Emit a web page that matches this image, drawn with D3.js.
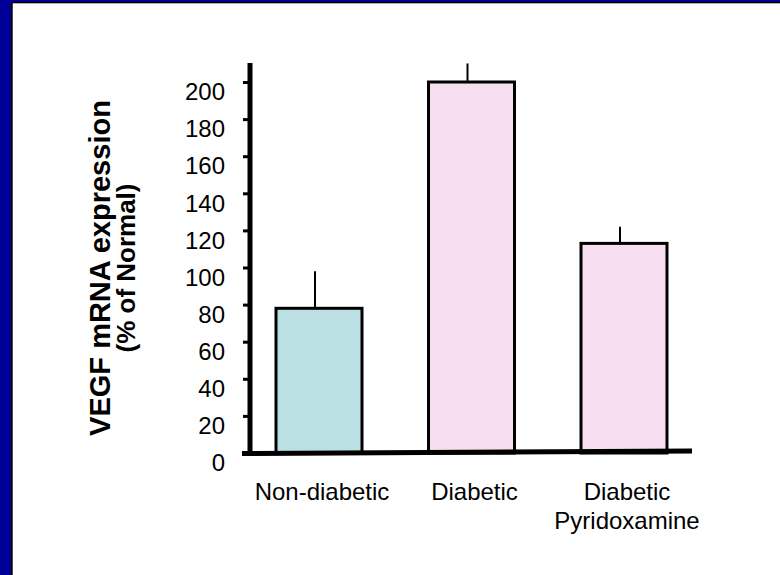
<!DOCTYPE html>
<html>
<head>
<meta charset="utf-8">
<script src="https://cdn.jsdelivr.net/npm/d3@7"></script>
<style>
  body { margin: 0; background: #fff; }
  text { font-family: Arial, "Liberation Sans", sans-serif; }
</style>
</head>
<body>
<div id="container"></div>
<script>
/* DATA */
const categories = ["Non-diabetic", "Diabetic", "Diabetic Pyridoxamine"];
const labelLines = [["Non-diabetic"], ["Diabetic"], ["Diabetic", "Pyridoxamine"]];
const values = [78, 200, 113];
const errors = [20, 10, 9];
const yTicks = [0, 20, 40, 60, 80, 100, 120, 140, 160, 180, 200];
const colors = ["#bbe0e3", "#f6ddef", "#f6ddef"];

/* CONSTANTS */
const width = 780,
  height = 575;

const svg = d3.select("#container")
  .append("svg")
  .attr("width", width)
  .attr("height", height);

// frame: navy band left and top with a thin black edge
svg.append("rect").attr("x", 0).attr("y", 0).attr("width", width).attr("height", 3.3).attr("fill", "#000000");
svg.append("rect").attr("x", 0).attr("y", 0).attr("width", 12.7).attr("height", height).attr("fill", "#000000");
svg.append("rect").attr("x", 0).attr("y", 0).attr("width", width).attr("height", 1.8).attr("fill", "#000099");
svg.append("rect").attr("x", 0).attr("y", 0).attr("width", 11).attr("height", height).attr("fill", "#000099");

// SCALES
const y = d3.scaleLinear()
  .domain([0, 200])
  .range([453, 82]);

const x = d3.scalePoint()
  .domain(categories)
  .range([319, 624]);

const barW = 86;

// Y AXIS
const yAxis = d3.axisLeft(y)
  .tickValues(yTicks)
  .tickSize(7)
  .tickPadding(18);

const gy = svg.append("g")
  .attr("transform", "translate(250,0)")
  .call(yAxis);

gy.select(".domain").remove();
gy.selectAll(".tick line")
  .attr("stroke", "#000")
  .attr("stroke-width", 3);
gy.selectAll(".tick text")
  .attr("dy", "0.74em")
  .attr("font-size", 24)
  .attr("font-family", "Arial, 'Liberation Sans', sans-serif")
  .attr("fill", "#000");

svg.append("line")
  .attr("x1", 250).attr("x2", 250)
  .attr("y1", 63).attr("y2", y(0) + 3)
  .attr("stroke", "#000")
  .attr("stroke-width", 5);

// BARS
svg.selectAll("rect.bar")
  .data(values)
  .join("rect")
  .attr("class", "bar")
  .attr("x", (d, i) => x(categories[i]) - barW / 2)
  .attr("y", d => y(d))
  .attr("width", barW)
  .attr("height", d => y(0) - y(d))
  .attr("fill", (d, i) => colors[i])
  .attr("stroke", "#000")
  .attr("stroke-width", 3);

// ERROR BARS (upper only)
svg.selectAll("line.err")
  .data(values)
  .join("line")
  .attr("class", "err")
  .attr("x1", (d, i) => x(categories[i]) - 4)
  .attr("x2", (d, i) => x(categories[i]) - 4)
  .attr("y1", d => y(d))
  .attr("y2", (d, i) => y(d + errors[i]))
  .attr("stroke", "#000")
  .attr("stroke-width", 2);

// X AXIS LINE
svg.append("line")
  .attr("x1", 242).attr("x2", 692)
  .attr("y1", y(0) + 0.5).attr("y2", y(0) - 2)
  .attr("stroke", "#000")
  .attr("stroke-width", 5);

// X LABELS
const xl = svg.selectAll("text.xlab")
  .data(labelLines)
  .join("text")
  .attr("class", "xlab")
  .attr("text-anchor", "middle")
  .attr("font-size", 24)
  .attr("fill", "#000")
  .attr("transform", (d, i) => `translate(${x(categories[i]) + 3}, 500)`);

xl.selectAll("tspan")
  .data(d => d)
  .join("tspan")
  .attr("x", 0)
  .attr("y", (d, i) => i * 29)
  .text(d => d);

// Y TITLE
const yt = svg.append("text")
  .attr("transform", "translate(110,268) rotate(-90)")
  .attr("text-anchor", "middle")
  .attr("font-size", 27)
  .attr("font-weight", "bold")
  .attr("fill", "#000");

yt.selectAll("tspan")
  .data(["VEGF mRNA expression", "(% of Normal)"])
  .join("tspan")
  .attr("x", 0)
  .attr("y", (d, i) => i * 25)
  .attr("font-size", (d, i) => i === 0 ? 29 : 26)
  .text(d => d);
</script>
</body>
</html>
